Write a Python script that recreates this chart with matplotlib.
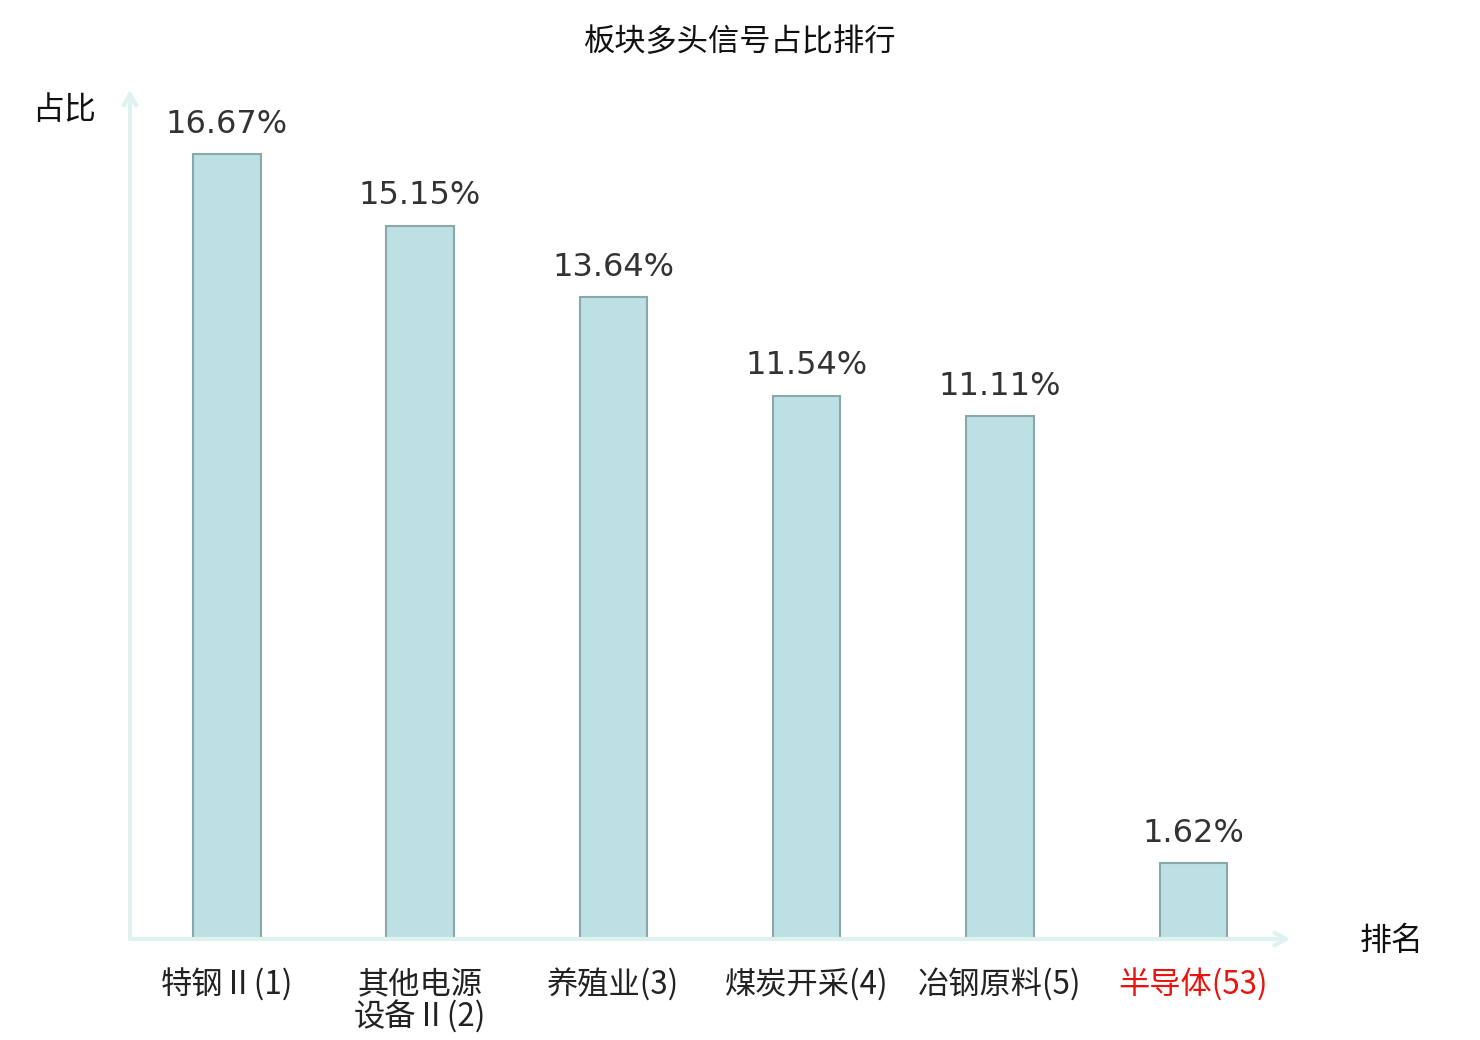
import numpy as np
import matplotlib.pyplot as plt

plt.rcParams['font.family'] = ['Noto Sans CJK SC', 'DejaVu Sans']

# data
sectors = ['特钢Ⅱ(1)', '其他电源\n设备Ⅱ(2)', '养殖业(3)', '煤炭开采(4)', '冶钢原料(5)', '半导体(53)']
ratios = [16.67, 15.15, 13.64, 11.54, 11.11, 1.62]
label_colors = ['#222222'] * 5 + ['#e8140f']

fig = plt.figure(figsize=(14.8, 10.4), dpi=100)
# axes area in pixels: x 130..1290, y 90..939
ax = fig.add_axes([130 / 1480, (1040 - 939) / 1040, 1160 / 1480, 849 / 1040])

x = np.arange(len(sectors))
ax.bar(x, ratios, width=0.35, color='#bce0e3', edgecolor='#8aa8a8', linewidth=1.5, zorder=2)

for xi, v in zip(x, ratios):
    ax.text(xi, v + 0.3, f'{v:.2f}%', ha='center', va='bottom',
            fontsize=23, color='#333333', family='DejaVu Sans')

ax.set_xlim(-0.5, 5.5)
ax.set_ylim(0, 18.03)

for s in ax.spines.values():
    s.set_visible(False)
ax.set_yticks([])
ax.set_xticks(x)
ax.set_xticklabels(sectors, fontsize=22.5, linespacing=1.0)
ax.tick_params(axis='x', length=0, pad=21)
for lbl, c in zip(ax.get_xticklabels(), label_colors):
    lbl.set_color(c)
    lbl.set_verticalalignment('top')

# axis arrows
axis_col = '#dff2ef'
ax.annotate('', xy=(1.0, 0), xytext=(0, 0), xycoords='axes fraction',
            arrowprops=dict(arrowstyle='->,head_length=0.8,head_width=0.45', color=axis_col, lw=3,
                            shrinkA=0, shrinkB=0), annotation_clip=False)
ax.annotate('', xy=(0, 1.0), xytext=(0, 0), xycoords='axes fraction',
            arrowprops=dict(arrowstyle='->,head_length=0.8,head_width=0.45', color=axis_col, lw=3,
                            shrinkA=0, shrinkB=0), annotation_clip=False)

fig.text(64 / 1480, 1 - 110 / 1040, '占比', ha='center', va='center', fontsize=23, color='#111111')
fig.text(1392 / 1480, 1 - 941 / 1040, '排名', ha='center', va='center', fontsize=23, color='#111111')
fig.text(740 / 1480, 1 - 42 / 1040, '板块多头信号占比排行', ha='center', va='center', fontsize=22.5, color='#111111')

fig.savefig('out.png', dpi=100)
